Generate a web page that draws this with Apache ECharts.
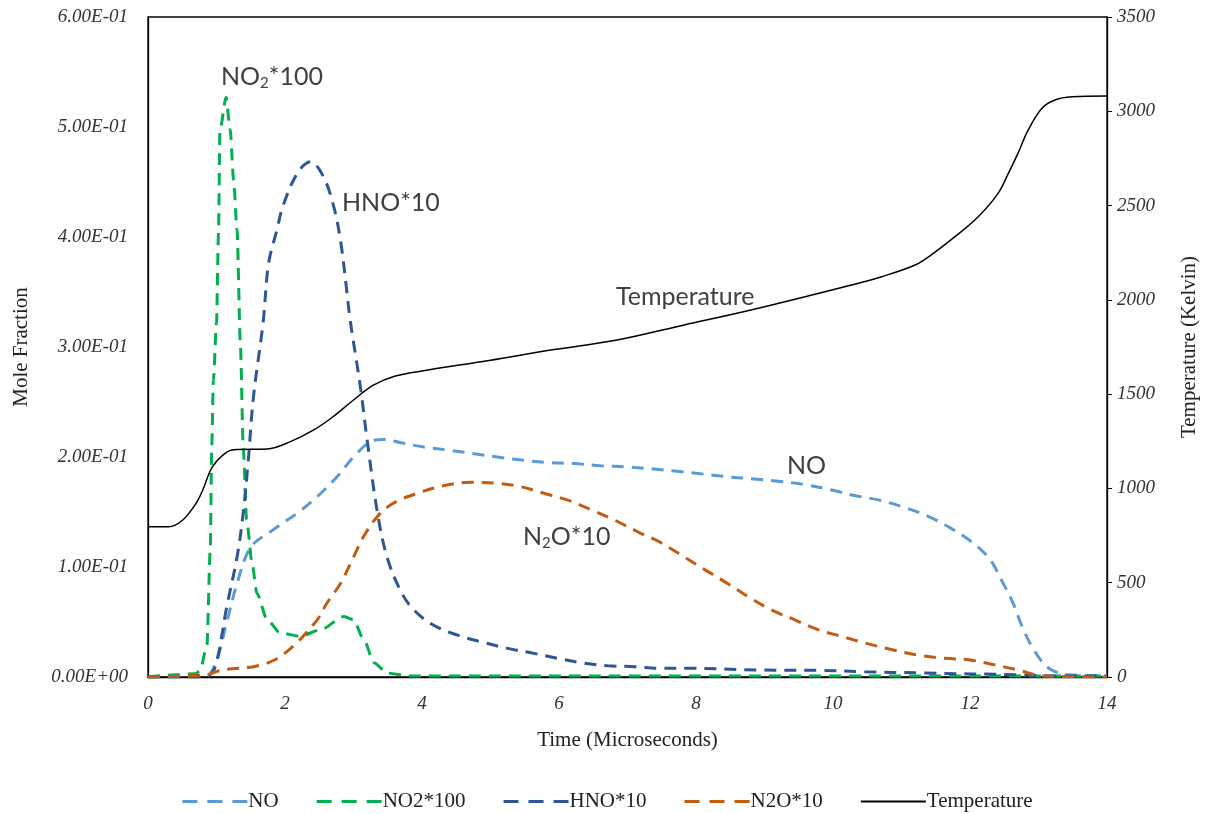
<!DOCTYPE html>
<html>
<head>
<meta charset="utf-8">
<script src="https://cdn.jsdelivr.net/npm/echarts@6/dist/echarts.min.js"></script>
<style>
  html, body { margin: 0; padding: 0; background: #fff; }
  #chart { width: 1215px; height: 814px; }
</style>
</head>
<body>
<div id="chart"></div>
<script>
// time axis, microseconds
const xTicks = [0, 2, 4, 6, 8, 10, 12, 14];

// NO (mole fraction)
const noTime = [0, 0.5, 0.85, 1.0, 1.15, 1.3, 1.5, 1.83, 2.18, 2.47, 2.76, 3.0, 3.25, 3.45, 3.69, 4.03, 4.42, 4.76, 5.1, 5.49, 5.83, 6.22, 6.61, 7.0, 7.39, 7.73, 8.03, 8.46, 8.85, 9.2, 9.58, 9.98, 10.31, 10.66, 11.05, 11.39, 11.7, 12.02, 12.29, 12.46, 12.63, 12.76, 12.93, 13.15, 13.44, 14];
const noVal = [0, 0, 0.001, 0.015, 0.05, 0.085, 0.118, 0.134, 0.149, 0.164, 0.182, 0.2, 0.214, 0.216, 0.213, 0.209, 0.206, 0.203, 0.2, 0.197, 0.195, 0.194, 0.192, 0.191, 0.189, 0.187, 0.185, 0.182, 0.18, 0.178, 0.175, 0.17, 0.165, 0.161, 0.154, 0.146, 0.136, 0.123, 0.107, 0.088, 0.067, 0.046, 0.025, 0.008, 0.002, 0.001];

// NO2 * 100
const no2Time = [0, 0.4, 0.7, 0.76, 0.86, 0.91, 0.93, 0.955, 1.0, 1.03, 1.05, 1.14, 1.2, 1.25, 1.3, 1.35, 1.39, 1.44, 1.52, 1.59, 1.74, 1.93, 2.22, 2.52, 2.86, 3.0, 3.15, 3.3, 3.49, 3.8, 14];
const no2Val = [0, 0.002, 0.003, 0.006, 0.028, 0.118, 0.209, 0.27, 0.322, 0.406, 0.497, 0.527, 0.497, 0.452, 0.406, 0.3, 0.209, 0.143, 0.103, 0.076, 0.052, 0.04, 0.037, 0.043, 0.055, 0.052, 0.034, 0.013, 0.0036, 0.001, 0.001];

// HNO * 10
const hnoTime = [0, 0.7, 0.9, 1.0, 1.15, 1.3, 1.39, 1.46, 1.54, 1.68, 1.76, 1.88, 1.97, 2.18, 2.37, 2.56, 2.71, 2.81, 2.9, 2.95, 3.1, 3.2, 3.35, 3.49, 3.69, 3.88, 4.17, 4.52, 4.86, 5.25, 5.63, 5.98, 6.32, 6.71, 7.1, 7.49, 7.88, 8.9, 9.78, 10.46, 11.34, 12.7, 13.2, 14];
const hnoVal = [0, 0, 0.002, 0.013, 0.064, 0.109, 0.149, 0.194, 0.255, 0.322, 0.376, 0.406, 0.428, 0.458, 0.4685, 0.455, 0.428, 0.397, 0.352, 0.325, 0.264, 0.215, 0.149, 0.109, 0.078, 0.061, 0.047, 0.038, 0.032, 0.026, 0.0215, 0.017, 0.013, 0.0103, 0.0094, 0.0079, 0.0079, 0.0064, 0.006, 0.0048, 0.0036, 0.002, 0.001, 0.001];

// N2O * 10
const n2oTime = [0, 0.86, 1.0, 1.15, 1.54, 1.83, 2.12, 2.47, 2.61, 2.81, 3.0, 3.15, 3.35, 3.58, 3.93, 4.32, 4.71, 5.1, 5.44, 5.78, 6.12, 6.47, 6.8, 7.15, 7.49, 7.83, 8.17, 8.46, 8.76, 9.1, 9.44, 9.78, 10.12, 10.46, 10.85, 11.24, 11.63, 12.0, 12.36, 12.7, 13.05, 14];
const n2oVal = [0, 0.002, 0.005, 0.007, 0.0094, 0.015, 0.028, 0.052, 0.067, 0.085, 0.109, 0.128, 0.146, 0.158, 0.167, 0.174, 0.177, 0.176, 0.173, 0.167, 0.161, 0.152, 0.143, 0.132, 0.122, 0.109, 0.096, 0.085, 0.073, 0.061, 0.052, 0.043, 0.037, 0.031, 0.025, 0.02, 0.017, 0.0155, 0.011, 0.0064, 0.001, 0];

// temperature, Kelvin (right axis)
const tempTime = [0, 0.3, 0.5, 0.7, 0.8, 0.94, 1.15, 1.3, 1.74, 2.08, 2.42, 2.7, 3.0, 3.29, 3.6, 4.0, 5.0, 5.88, 6.85, 7.83, 8.8, 10.27, 10.71, 11.2, 11.44, 11.78, 12.12, 12.41, 12.56, 12.7, 12.85, 13.05, 13.24, 13.49, 14];
const tempVal = [797, 797, 830, 920, 992, 1114, 1193, 1207, 1209, 1248, 1310, 1380, 1469, 1548, 1595, 1623, 1680, 1734, 1787, 1867, 1946, 2079, 2123, 2185, 2240, 2335, 2441, 2565, 2671, 2777, 2901, 3016, 3060, 3077, 3081];

const seriesNames = ['NO', 'NO2*100', 'HNO*10', 'N2O*10', 'Temperature'];
const colors = ['#5b9bd5', '#00b050', '#2f5597', '#c55a11', '#000000'];

function pairs(xs, ys) {
  return xs.map((x, i) => [x, ys[i]]);
}

// 0.1 -> 1.00E-01
function sci(v) {
  if (Math.abs(v) < 1e-12) return '0.00E+00';
  const e = Math.floor(Math.log10(Math.abs(v)) + 1e-9);
  const m = v / Math.pow(10, e);
  return m.toFixed(2) + 'E' + (e < 0 ? '-' : '+') + String(Math.abs(e)).padStart(2, '0');
}

const serif = 'Liberation Serif';
const tickFont = { fontFamily: serif, fontStyle: 'italic', fontSize: 19, color: '#333' };
const nameFont = { fontFamily: serif, fontSize: 21, color: '#222' };
const noteFont = { fontFamily: 'Lato', fontSize: 25, fill: '#404040' };
const subRich = {
  a: { fontFamily: 'Lato', fontSize: 25, fill: '#404040', lineHeight: 28 },
  s: { fontFamily: 'Lato', fontSize: 15, fill: '#404040', lineHeight: 28, verticalAlign: 'bottom' }
};

// legend swatches: three dashes, or one solid bar
const dashIcon = 'path://M0,0h15v3h-15z M25,0h15v3h-15z M50,0h15v3h-15z';
const solidIcon = 'path://M0,0h65v2h-65z';

function dashed(name, data, color, smooth) {
  return {
    name, type: 'line', data, yAxisIndex: 0,
    symbol: 'none', smooth: smooth,
    lineStyle: { color, width: 3, type: [12, 8] },
    itemStyle: { color }
  };
}

const chart = echarts.init(document.getElementById('chart'));
chart.setOption({
  animation: false,
  color: colors,
  grid: { left: 148, right: 108, top: 17, bottom: 137, show: true, borderColor: '#000', borderWidth: 1.3 },
  xAxis: {
    type: 'value', min: xTicks[0], max: xTicks[xTicks.length - 1], interval: 2,
    name: 'Time (Microseconds)', nameLocation: 'middle', nameGap: 53, nameTextStyle: nameFont,
    axisLine: { lineStyle: { color: '#000', width: 1.3 } },
    axisTick: { show: false },
    axisLabel: Object.assign({ margin: 17 }, tickFont),
    splitLine: { show: false }
  },
  yAxis: [{
    type: 'value', min: 0, max: 0.6, interval: 0.1,
    name: 'Mole Fraction', nameLocation: 'middle', nameRotate: 90, nameGap: 116, nameTextStyle: nameFont,
    axisLine: { show: true, lineStyle: { color: '#000', width: 1.3 } },
    axisTick: { show: false },
    axisLabel: Object.assign({ margin: 20, formatter: sci }, tickFont),
    splitLine: { show: false }
  }, {
    type: 'value', min: 0, max: 3500, interval: 500, position: 'right',
    name: 'Temperature (Kelvin)', nameLocation: 'middle', nameRotate: 90, nameGap: 72, nameTextStyle: nameFont,
    axisLine: { show: true, lineStyle: { color: '#000', width: 1.3 } },
    axisTick: { show: true, length: 5, lineStyle: { color: '#000' } },
    axisLabel: Object.assign({ margin: 10, formatter: v => String(v) }, tickFont),
    splitLine: { show: false }
  }],
  legend: {
    data: [
      { name: seriesNames[0], icon: dashIcon },
      { name: seriesNames[1], icon: dashIcon },
      { name: seriesNames[2], icon: dashIcon },
      { name: seriesNames[3], icon: dashIcon },
      { name: seriesNames[4], icon: solidIcon }
    ],
    top: 786, left: 'center', itemWidth: 65, itemHeight: 3, itemGap: 38,
    textStyle: { fontFamily: serif, fontSize: 21, color: '#222', padding: [0, 0, 0, -4] }
  },
  graphic: [
    { type: 'text', left: 221, top: 64, style: { text: '{a|NO}{s|2}{a|*100}', rich: subRich } },
    { type: 'text', left: 342, top: 190, style: Object.assign({ text: 'HNO*10' }, noteFont) },
    { type: 'text', left: 616, top: 284, style: Object.assign({ text: 'Temperature' }, noteFont) },
    { type: 'text', left: 787, top: 453, style: Object.assign({ text: 'NO' }, noteFont) },
    { type: 'text', left: 523, top: 524, style: { text: '{a|N}{s|2}{a|O*10}', rich: subRich } }
  ],
  series: [
    dashed(seriesNames[0], pairs(noTime, noVal), colors[0], 0.35),
    Object.assign(dashed(seriesNames[1], pairs(no2Time, no2Val), colors[1], 0.25), { smoothMonotone: 'x' }),
    dashed(seriesNames[2], pairs(hnoTime, hnoVal), colors[2], 0.35),
    dashed(seriesNames[3], pairs(n2oTime, n2oVal), colors[3], 0.35),
    {
      name: seriesNames[4], type: 'line', yAxisIndex: 1, data: pairs(tempTime, tempVal),
      symbol: 'none', smooth: 0.35,
      lineStyle: { color: '#000', width: 1.5 }, itemStyle: { color: '#000' }
    }
  ]
});
</script>
</body>
</html>
